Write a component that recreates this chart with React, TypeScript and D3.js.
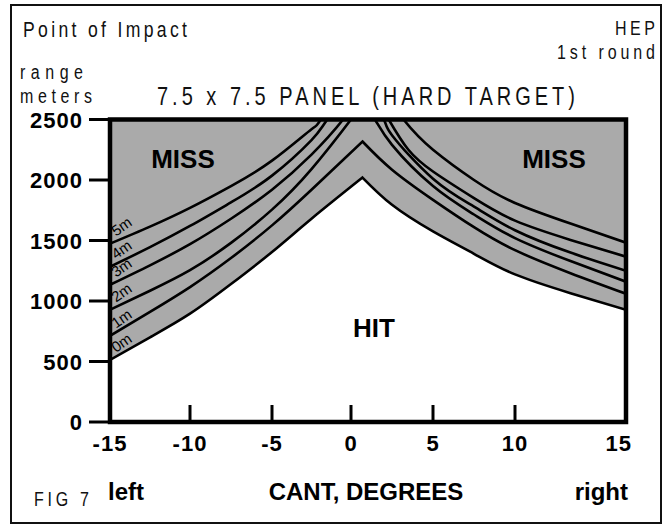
import * as d3 from "d3";

type Pt = [number, number];

const cantTicks = [-15, -10, -5, 0, 5, 10, 15];
const rangeTicks = [0, 500, 1000, 1500, 2000, 2500];

// miss-distance contours, [cant degrees, range meters]
const curve0m: Pt[] = [[-15, 513], [-12.5, 700], [-10, 895], [-7.5, 1140], [-5, 1405], [-2.5, 1680], [0.7, 2020], [2.5, 1795], [5, 1575], [7.5, 1390], [10, 1220], [12.5, 1065], [15, 927]];
const curve1m: Pt[] = [[-15, 712], [-12.5, 910], [-10, 1115], [-7.5, 1355], [-5, 1625], [-2.5, 1920], [0.7, 2318], [2.5, 2085], [5, 1836], [7.5, 1610], [10, 1420], [12.5, 1230], [15, 1060]];
const curve2m: Pt[] = [[-15, 927], [-12.5, 1085], [-10, 1255], [-7.5, 1480], [-5, 1755], [-2.5, 2090], [0, 2500], [0.7, 2630], [1.46, 2500], [2.5, 2290], [5, 1950], [7.5, 1715], [10, 1520], [12.5, 1330], [15, 1159]];
const curve3m: Pt[] = [[-15, 1134], [-12.5, 1295], [-10, 1470], [-7.5, 1680], [-5, 1920], [-2.5, 2210], [-0.5, 2500], [0.7, 2730], [2, 2500], [2.5, 2370], [5, 2010], [7.5, 1780], [10, 1585], [12.5, 1400], [15, 1250]];
const curve4m: Pt[] = [[-15, 1283], [-12.5, 1445], [-10, 1620], [-7.5, 1815], [-5, 2036], [-2.5, 2330], [-1.5, 2500], [0.7, 2880], [2.3, 2500], [3.5, 2250], [5, 2070], [7.5, 1850], [10, 1664], [12.5, 1505], [15, 1366]];
const curve5m: Pt[] = [[-15, 1474], [-12.5, 1615], [-10, 1770], [-7.5, 1950], [-5, 2160], [-2.5, 2420], [-1.9, 2500], [0.7, 2950], [3.2, 2500], [5, 2250], [7.5, 2000], [10, 1810], [12.5, 1640], [15, 1482]];

const curveLabels = ["0m", "1m", "2m", "3m", "4m", "5m"];
const curves = [curve0m, curve1m, curve2m, curve3m, curve4m, curve5m];

const W = 667, H = 525;
const sans = "'Liberation Sans', Arial, sans-serif";

// the drawn axis is not quite even, so map each tick to where it sits
const x = d3.scaleLinear().domain(cantTicks).range([110, 190, 272, 351, 433, 515, 626]);
const y = d3.scaleLinear().domain([0, 2500]).range([422, 119.5]);

const line = d3.line<Pt>().x((d) => x(d[0])).y((d) => y(d[1])).curve(d3.curveNatural);

function joined(pts: Pt[]) {
  const i = d3.maxIndex(pts, (d) => d[1]);
  const l = line(pts.slice(0, i + 1))!, r = line(pts.slice(i))!;
  return `${l}L${r.slice(1)}`;
}

// condensed light lettering of the original: squeezed glyphs, opened spacing
function Narrow({ x, y, w, size, anchor = "start", children }: { x: number; y: number; w: number; size: number; anchor?: string; children: string }) {
  const k = 0.8;
  return (
    <text transform={`translate(${x},${y}) scale(${k},1)`} textAnchor={anchor} fontFamily={sans}
      fontSize={size} textLength={w / k} lengthAdjust="spacing" fill="#111">{children}</text>
  );
}

export default function App() {
  const x0 = x(-15), x1 = x(15), yTop = y(2500), yBot = y(0);
  const missArea = `${joined(curve0m)}L${x1},${yTop}L${x0},${yTop}Z`;
  return (
    <svg width={W} height={H} style={{ position: "absolute", left: 0, top: 0, background: "#fff" }}>
      <rect x={11} y={5} width={650} height={518} fill="none" stroke="#111" strokeWidth={2} />

      <Narrow x={23} y={37} w={164} size={22}>Point of Impact</Narrow>
      <Narrow x={655} y={35} w={40} size={20} anchor="end">HEP</Narrow>
      <Narrow x={655} y={59} w={98} size={20} anchor="end">1st round</Narrow>
      <Narrow x={20} y={79} w={63} size={20}>range</Narrow>
      <Narrow x={20} y={103} w={72} size={20}>meters</Narrow>
      <Narrow x={157} y={105} w={418} size={25}>7.5 x 7.5 PANEL (HARD TARGET)</Narrow>

      <defs>
        <clipPath id="plot">
          <rect x={x0} y={yTop} width={x1 - x0} height={yBot - yTop} />
        </clipPath>
      </defs>
      <rect x={x0} y={yTop} width={x1 - x0} height={yBot - yTop} fill="#fff" />
      <g clipPath="url(#plot)">
        <path d={missArea} fill="#aaaaaa" />
        {curves.map((c, i) => (
          <path key={i} d={joined(c)} fill="none" stroke="#000" strokeWidth={2.6} strokeLinejoin="miter" />
        ))}
      </g>

      <text x={183} y={168} textAnchor="middle" fontFamily={sans} fontWeight="bold" fontSize={26}>MISS</text>
      <text x={554} y={168} textAnchor="middle" fontFamily={sans} fontWeight="bold" fontSize={26}>MISS</text>
      <text x={374} y={337} textAnchor="middle" fontFamily={sans} fontWeight="bold" fontSize={26}>HIT</text>

      {cantTicks.slice(1, -1).map((t) => (
        <line key={t} x1={x(t)} x2={x(t)} y1={yBot} y2={yBot - 17} stroke="#000" strokeWidth={3} />
      ))}
      {rangeTicks.map((t) => (
        <g key={t}>
          <line x1={89} x2={x0} y1={y(t)} y2={y(t)} stroke="#000" strokeWidth={3} />
          <text x={83} y={y(t) + 8} textAnchor="end" fontFamily={sans} fontWeight="bold" fontSize={22} letterSpacing={1}>{t}</text>
        </g>
      ))}
      {cantTicks.map((t) => (
        <text key={t} x={t === 15 ? x(t) + 6 : x(t)} y={451} textAnchor={t === 15 ? "end" : "middle"}
          fontFamily={sans} fontWeight="bold" fontSize={22} letterSpacing={1}>{t}</text>
      ))}

      <rect x={x0} y={yTop} width={x1 - x0} height={yBot - yTop} fill="none" stroke="#000" strokeWidth={4.5} />

      {curves.map((c, i) => (
        <text key={curveLabels[i]} fontFamily={sans} fontSize={15}
          transform={`translate(${x0 + 6},${y(c[0][1]) - 7}) rotate(-35)`}>{curveLabels[i]}</text>
      ))}

      <Narrow x={34} y={506} w={55} size={20}>FIG 7</Narrow>
      <text x={108} y={500} fontFamily={sans} fontWeight="bold" fontSize={24}>left</text>
      <text x={366} y={500} textAnchor="middle" fontFamily={sans} fontWeight="bold" fontSize={24}>CANT, DEGREES</text>
      <text x={628} y={500} textAnchor="end" fontFamily={sans} fontWeight="bold" fontSize={24}>right</text>
    </svg>
  );
}
